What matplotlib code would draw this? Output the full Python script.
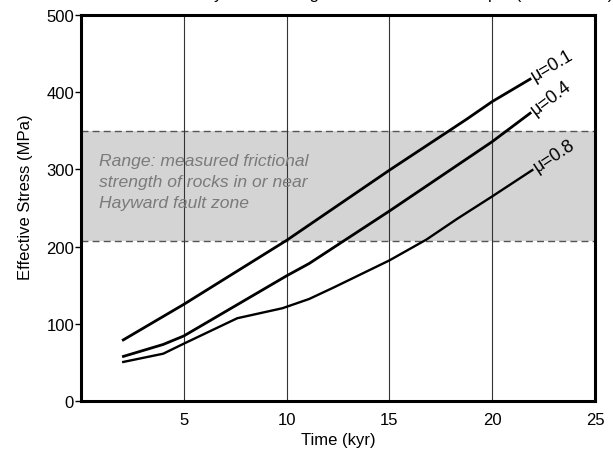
import matplotlib
matplotlib.use('Agg')
import matplotlib.pyplot as plt
import numpy as np

# Effective stress curves for three friction coefficients
t_01 = [2.0, 5.0, 10.0, 15.0, 18.75, 20.0, 21.9]
s_01 = [78, 125, 208, 299, 365, 388, 418]

t_04 = [2.0, 4.0, 5.0, 10.0, 11.1, 15.0, 20.0, 21.9]
s_04 = [57, 73, 84, 162, 178, 246, 336, 374]

t_08 = [2.0, 4.0, 5.0, 7.6, 9.8, 11.1, 12.3, 15.0, 16.8, 18.3, 20.0, 22.0]
s_08 = [50, 61, 74, 107, 120, 132, 147, 182, 209, 236, 265, 300]

curve_labels = ['\u03bc=0.1', '\u03bc=0.4', '\u03bc=0.8']

# measured frictional strength range
band_low, band_high = 207.5, 350

x_ticks = [5, 10, 15, 20, 25]
y_ticks = [0, 100, 200, 300, 400, 500]

plt.rcParams['font.family'] = ['Liberation Sans', 'DejaVu Sans']
plt.rcParams['font.size'] = 12

fig = plt.figure(figsize=(6.13, 4.56), dpi=100)
ax = fig.add_axes([0.1321, 0.119, 0.8385, 0.8454])

# grey band with dashed edges
ax.axhspan(band_low, band_high, color='#d4d4d4', zorder=0, lw=0)
for yv in (band_low, band_high):
    ax.axhline(yv, color='#555555', lw=1.0, dashes=(5, 3), zorder=1)

# vertical grid lines
for xv in x_ticks[:-1]:
    ax.axvline(xv, color='#333333', lw=0.8, zorder=1)

ax.text(0.86, 321, 'Range: measured frictional\nstrength of rocks in or near\nHayward fault zone',
        fontsize=12.6, style='italic', color='#7a7a7a', va='top', ha='left',
        linespacing=1.5, zorder=2)

series = [(t_01, s_01, 2.0), (t_04, s_04, 2.0), (t_08, s_08, 1.7)]
for (t, s, lw), lab in zip(series, curve_labels):
    ax.plot(t, s, color='black', lw=lw, zorder=3, solid_capstyle='butt')

ax.set_xlim(0, 25)
ax.set_ylim(0, 500)
fig.canvas.draw()

# labels at the end of each curve, rotated along the last segment
for (t, s, lw), lab in zip(series, curve_labels):
    p0 = ax.transData.transform((t[-2], s[-2]))
    p1 = ax.transData.transform((t[-1], s[-1]))
    ang = np.degrees(np.arctan2(p1[1] - p0[1], p1[0] - p0[0]))
    ax.annotate(lab, xy=(t[-1], s[-1]), xytext=(1, 1), textcoords='offset points',
                rotation=ang, rotation_mode='anchor', ha='left', va='center',
                fontsize=13, zorder=4)

ax.set_xticks(x_ticks)
ax.set_yticks(y_ticks)
ax.tick_params(axis='x', length=0, pad=8, labelsize=12)
ax.tick_params(axis='y', length=4, width=1, pad=1, labelsize=12)
for sp in ax.spines.values():
    sp.set_linewidth(2.2)

ax.set_xlabel('Time (kyr)', fontsize=12, labelpad=4)
ax.set_ylabel('Effective Stress (MPa)', fontsize=12)
ax.yaxis.set_label_coords(-0.094, 0.53)

# title sits above the top edge of the image, only its descenders show
fig.text(56 / 613, 1.0 + 0.5 / 456,
         'Effective stress history in the strong fault zone at 10 km depth (base model)',
         fontsize=12, ha='left', va='baseline')

fig.savefig('out.png', dpi=100)
